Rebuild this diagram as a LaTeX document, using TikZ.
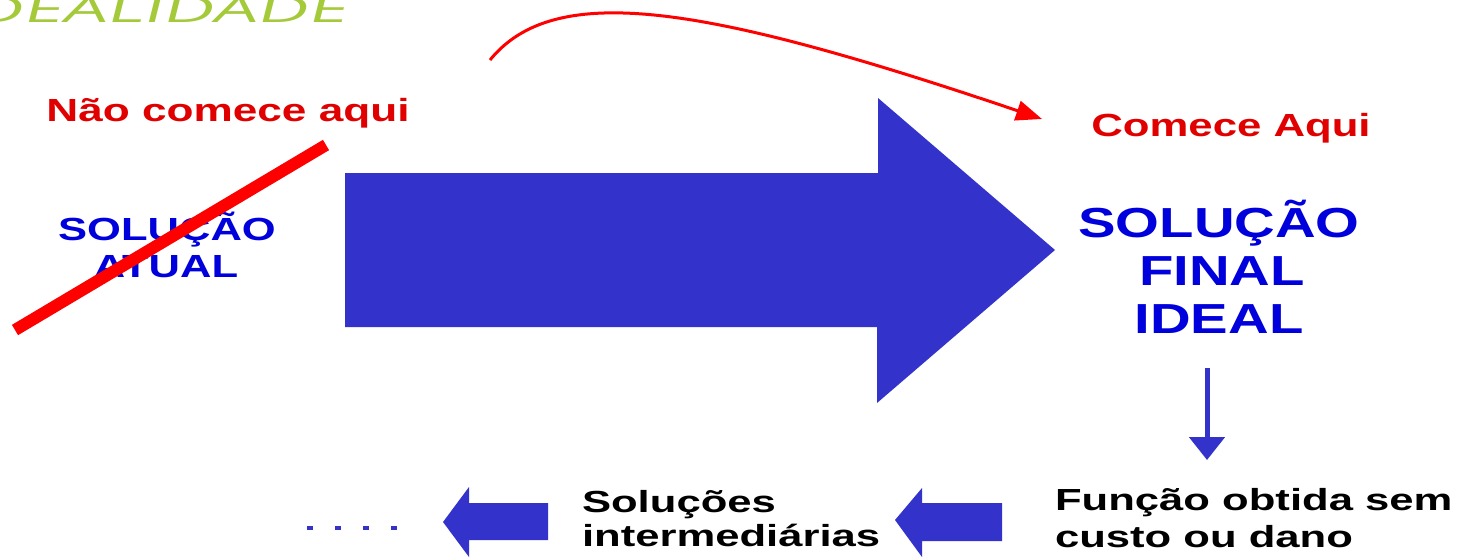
\documentclass[tikz,border=0pt]{standalone}
\usepackage{fontspec}
\setmainfont{Liberation Sans}
\newfontfamily\titlefont{Open Sans}
\usetikzlibrary{arrows.meta}
\definecolor{titlegreen}{RGB}{164,202,58}
\definecolor{txtred}{RGB}{225,0,0}
\definecolor{slashred}{RGB}{255,0,0}
\definecolor{txtblue}{RGB}{0,0,220}
\definecolor{arrblue}{RGB}{51,51,204}
\begin{document}
\begin{tikzpicture}[x=1pt,y=-1pt,
  txt/.style={inner sep=0pt, outer sep=0pt},
  redlbl/.style={txt, text=txtred, font=\bfseries\fontsize{32}{32}\selectfont, xscale=1.38},
  bluesmall/.style={txt, text=txtblue, font=\bfseries\fontsize{32}{32}\selectfont, xscale=1.36},
  bluebig/.style={txt, text=txtblue, font=\bfseries\fontsize{42}{42}\selectfont, xscale=1.34},
  blacklbl/.style={txt, text=black, font=\bfseries\fontsize{30.5}{30.5}\selectfont, xscale=1.43, anchor=base west},
  bigarrow/.style={fill=arrblue, draw=none},
  redcurve/.style={draw=slashred, line width=3pt, -{Triangle[length=26pt,width=20pt]}},
]
\useasboundingbox (0,0) rectangle (1464,558);
\fill[white] (0,0) rectangle (1464,558);

% title (cut off at the top-left, as in the reference)
\node[txt, anchor=base east, text=titlegreen, font=\titlefont\fontsize{36}{36}\selectfont, xslant=0.25, xscale=1.95] (title) at (346,22) {IDEALIDADE};

% left labels
\node[redlbl, anchor=base] (nao) at (228,121) {Não comece aqui};
\node[bluesmall, anchor=base] (atual1) at (167,240) {SOLUÇÃO};
\node[bluesmall, anchor=base] (atual2) at (166,277) {ATUAL};

% strike-through
\coordinate (slashA) at (15,330);
\coordinate (slashB) at (326,145);
\draw[slashred, line width=12pt] (slashA) -- (slashB);

% big arrow
\fill[bigarrow] (345,173) -- (878,173) -- (878,98) -- (1055,250) -- (877,403) -- (877,327) -- (345,327) -- cycle;

% right labels
\node[redlbl, xscale=0.99, anchor=base] (comece) at (1231,136) {Comece Aqui};
\node[bluebig, anchor=base] (final1) at (1219,237) {SOLUÇÃO};
\node[bluebig, anchor=base] (final2) at (1222,285) {FINAL};
\node[bluebig, anchor=base] (final3) at (1219,333) {IDEAL};

% curved red arrow
\coordinate (cstart) at (490,60);
\coordinate (cend) at (1042,119);
\draw[redcurve] (cstart) .. controls (555,-20) and (705,5) .. (cend);

% down arrow
\coordinate (dtop) at (1207,368);
\coordinate (dbot) at (1207,460);
\draw[arrblue, line width=5pt, -{Triangle[length=23pt,width=35pt]}] (dtop) -- (dbot);

% bottom labels
\node[blacklbl] (func1) at (1055,510) {Função obtida sem};
\node[blacklbl] (func2) at (1055,547) {custo ou dano};
\node[blacklbl] (inter1) at (582,512) {Soluções};
\node[blacklbl] (inter2) at (582,546) {intermediárias};

% small left arrows
\fill[bigarrow] (1002,503) -- (922,503) -- (922,488) -- (895,520) -- (922,557) -- (922,541) -- (1002,541) -- cycle;
\fill[bigarrow] (548,503) -- (469,503) -- (469,487) -- (443,522) -- (469,557) -- (469,540) -- (548,540) -- cycle;

% dots
\coordinate (dotA) at (307,528);
\coordinate (dotB) at (400,528);
\draw[arrblue, line width=4.5pt, dash pattern=on 6pt off 22pt] (dotA) -- (dotB);
\end{tikzpicture}
\end{document}
